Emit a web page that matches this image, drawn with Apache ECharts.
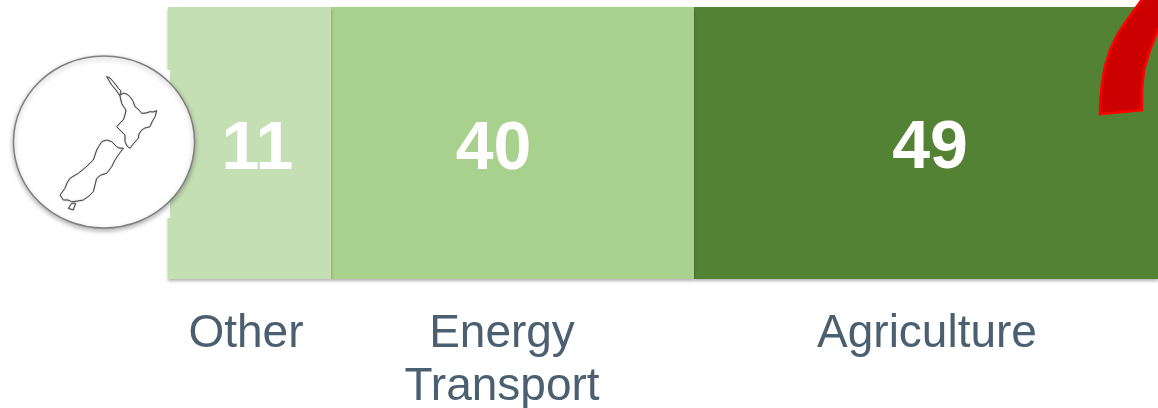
<!DOCTYPE html>
<html><head><meta charset="utf-8">
<style>html,body{margin:0;padding:0;background:#fff}#c{width:1158px;height:408px}</style>
<script src="https://cdn.jsdelivr.net/npm/echarts@6/dist/echarts.min.js"></script>
</head><body><div id="c"></div>
<script>
const categories = ['Other', 'Energy\nTransport', 'Agriculture'];
const shownValues = [11, 40, 49];
const segmentWidths = [16.3, 36.3, 46.4];
const categoryLabelAt = [7.8, 33.4, 75.9];
const colors = ['#c5dfb5', '#a9d18e', '#548235'];
const labelOffsets = [[8, 7], [-19, 7], [4, 6]];
const labelSize = 68;

const northIsland = [[106.7,76.7],[110,78],[113.3,81.7],[116,85],[118.3,88.3],[121,91],[120,95],[124,93],[128.3,95],[131,98],[133.3,101.7],[135,106.7],[138,109],[141.7,113.3],[146,113],[150,111.7],[153,112],[156.7,110.7],[155,116.7],[152,122],[150,126.7],[145,128],[141.7,130],[139,134],[138.3,138.3],[134,143],[130,148.3],[127,146],[125,141.7],[125,135],[121,131],[116.7,126.7],[120,123],[123.3,120],[125,115],[126,110],[123,106],[121.7,103.3],[120,96],[116,90],[111,84]];
const southIsland = [[106.7,140],[101.7,141.7],[99,146],[96.7,150],[95,155],[93.3,160],[86,167],[78.3,173.3],[70,178.3],[67,183],[65,188.3],[60,195],[63.3,200],[68,200],[71.7,201.7],[78,201],[83.3,200],[89,196],[93.3,191.7],[95,185],[96.7,178.3],[101,175],[106.7,173.3],[111.7,166.7],[115,160],[118.3,155],[123.3,148.3],[119,148],[116.7,146.7],[113,143],[111.7,141.7]];
const stewart = [[71.7,203.3],[75.7,203.3],[73.3,210],[68.3,208.3]];
const redArc = [[1100,114],[1100.3,100],[1102,83],[1105,66],[1110,50],[1117,35],[1127,20],[1135,9],[1143,-2],[1175,-10],[1158,30],[1150,50],[1144,70],[1142,90],[1142,110]];

const outline = pts => ({type: 'polygon', z: 21, shape: {points: pts},
  style: {fill: 'none', stroke: '#444', lineWidth: 1, shadowColor: 'rgba(0,0,0,0.4)', shadowBlur: 1.5}});

const chart = echarts.init(document.getElementById('c'), null, {renderer: 'canvas'});
chart.setOption({
  animation: false,
  grid: {left: 168, right: 0, top: 7, height: 272, outerBoundsMode: 'none'},
  yAxis: {type: 'category', data: ['share'], show: false},
  xAxis: {
    type: 'value', min: 0, max: 99,
    splitLine: {show: false}, axisLine: {show: false},
    axisTick: {show: false},
    axisLabel: {
      customValues: categoryLabelAt,
      margin: 29,
      fontFamily: '"Liberation Sans", Arial, sans-serif',
      fontSize: 46, color: '#4a5f70', lineHeight: 53,
      formatter: v => categories[categoryLabelAt.indexOf(v)] ?? ''
    }
  },
  series: categories.map((name, i) => ({
    type: 'bar', stack: 'total', name,
    barWidth: '100%',
    data: [segmentWidths[i]],
    z: 3 - i,
    itemStyle: {color: colors[i], shadowColor: 'rgba(0,0,0,0.3)', shadowBlur: 3, shadowOffsetY: 2},
    label: {
      show: true, position: 'inside', offset: labelOffsets[i],
      formatter: () => String(shownValues[i]),
      fontFamily: '"Liberation Sans", Arial, sans-serif',
      fontWeight: 'bold', fontSize: labelSize, color: '#fff'
    }
  })),
  graphic: [
    {type: 'rect', z: 19, shape: {x: 13, y: 70, width: 157, height: 148}, style: {fill: '#fff'}},
    {type: 'ellipse', z: 20, shape: {cx: 104, cy: 142, rx: 90.5, ry: 86},
     style: {fill: '#fff', stroke: '#7f7f7f', lineWidth: 1.5, shadowColor: 'rgba(0,0,0,0.3)', shadowBlur: 5, shadowOffsetY: 2}},
    outline(northIsland), outline(southIsland), outline(stewart),
    {type: 'polygon', z: 22, shape: {points: redArc},
     style: {fill: '#cc0000', stroke: '#ff0000', lineWidth: 2.5}}
  ]
});
</script></body></html>
